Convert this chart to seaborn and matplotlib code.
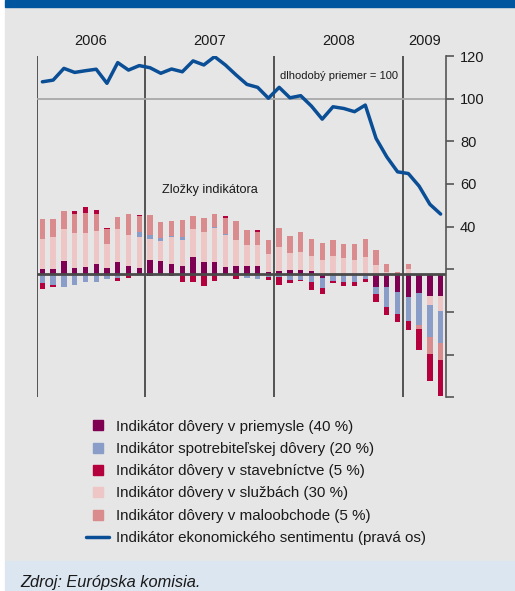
import numpy as np
import matplotlib
matplotlib.use("Agg")
import matplotlib.pyplot as plt
from matplotlib.lines import Line2D
from matplotlib.patches import Rectangle
from matplotlib import font_manager
import seaborn as sns

# months Mar 2006 - Apr 2009
years = ['2006', '2007', '2008', '2009']
months_per_year = [10, 12, 12, 4]

# economic sentiment indicator (right axis)
sentiment = [107.9, 108.7, 114.2, 112.3, 113.1, 113.8, 107.2, 116.9, 113.4, 115.5,
             114.5, 111.9, 113.9, 112.6, 117.7, 115.8, 119.7, 115.8, 111.1, 106.7,
             105.3, 100.2, 105.3, 100.4, 101.4, 96.5, 90.4, 96.2, 95.4, 93.9,
             97.0, 81.4, 72.7, 65.7, 64.9, 59.0, 50.5, 45.9]
long_term_avg = 100

# components (contributions)
industry = [2.2, 2.2, 5.9, 2.7, 3.1, 4.5, 2.7, 5.5, 3.6, 2.7,
            6.4, 5.9, 4.5, 3.6, 7.8, 5.5, 5.5, 3.1, 3.6, 3.8,
            3.6, 0.8, 1.3, 1.7, 1.7, 1.3, -2.0, -0.5, 0.0, 0.0,
            0.0, -6.3, -6.3, -8.6, -11.0, -9.1, -10.5, -10.5]
services = [14.1, 15.0, 15.0, 16.6, 16.0, 15.5, 11.3, 15.5, 14.6, 14.6,
            9.9, 9.4, 12.7, 12.2, 13.1, 14.1, 16.0, 15.0, 12.2, 9.9,
            9.9, 8.5, 11.3, 8.0, 8.5, 7.0, 6.4, 8.3, 7.4, 6.4,
            7.8, 4.1, 0.8, 0.0, 2.2, 0.0, -4.2, -7.0]
consumer = [-4.4, -5.3, -6.3, -5.3, -3.9, -3.9, -2.5, -2.0, -0.6, 2.3,
            1.9, 1.4, 0.5, 1.4, 0.0, 0.0, 0.5, 0.5, 0.0, -2.0,
            -2.7, -1.7, -1.6, -3.0, -3.0, -3.9, -4.7, -3.0, -3.9, -3.9,
            -2.5, -3.3, -9.4, -10.3, -11.3, -15.0, -15.0, -15.0]
retail = [9.4, 8.5, 8.5, 8.8, 9.4, 8.0, 7.0, 5.6, 9.9, 7.5,
          9.4, 7.5, 7.0, 8.0, 6.1, 6.6, 6.1, 7.5, 8.9, 7.0,
          6.1, 6.6, 8.9, 8.0, 9.5, 8.0, 8.0, 7.5, 6.6, 7.5,
          8.5, 7.0, 3.8, 0.8, 2.3, -1.9, -8.0, -8.0]
construction = [-2.8, -0.9, 0.0, 1.4, 2.8, 1.9, 0.5, -1.4, -1.4, 0.5,
                -1.0, 0.0, -1.2, -3.9, -3.9, -5.8, -3.4, 0.9, -2.5, 0.0,
                0.9, -1.3, -3.8, -1.4, -0.5, -3.8, -2.8, -0.9, -1.9, -1.9,
                -1.4, -3.8, -3.8, -3.8, -4.2, -9.9, -12.7, -16.9]

labels = {
    'industry': 'Indikátor dôvery v priemysle (40 %)',
    'consumer': 'Indikátor spotrebiteľskej dôvery (20 %)',
    'construction': 'Indikátor dôvery v stavebníctve (5 %)',
    'services': 'Indikátor dôvery v službách (30 %)',
    'retail': 'Indikátor dôvery v maloobchode (5 %)',
    'line': 'Indikátor ekonomického sentimentu (pravá os)',
}
colors = {
    'industry': '#7f0053',
    'consumer': '#8a9dc8',
    'construction': '#b4003c',
    'services': '#eec6c6',
    'retail': '#d98b8d',
    'line': '#0a4e96',
}
series = {'industry': industry, 'services': services, 'consumer': consumer,
          'retail': retail, 'construction': construction}

sns.set_style('white')
plt.rcParams['font.family'] = ['Liberation Sans', 'DejaVu Sans']
installed = {f.name for f in font_manager.fontManager.ttflist}
narrow = 'Liberation Sans Narrow' if 'Liberation Sans Narrow' in installed else 'Liberation Sans'

W, H = 515, 591
fig = plt.figure(figsize=(W / 100, H / 100), dpi=100, facecolor='white')

# background bands
fig.add_artist(Rectangle((5 / W, 30 / H), 1 - 5 / W, (H - 37) / H,
                         transform=fig.transFigure, color='#e6e6e6', zorder=-10))
fig.add_artist(Rectangle((5 / W, 1 - 7 / H), 1 - 5 / W, 7 / H,
                         transform=fig.transFigure, color='#0057a0', zorder=-10))
fig.add_artist(Rectangle((5 / W, 0), 1 - 5 / W, 30 / H,
                         transform=fig.transFigure, color='#dce6f1', zorder=-10))

ax = fig.add_axes([37 / W, 1 - 397.3 / H, 409 / W, 341.3 / H])
ax.set_facecolor('none')
x = np.arange(len(sentiment))

# stacked bars, positives up and negatives down
pos = np.zeros(len(x))
neg = np.zeros(len(x))
for key, vals in series.items():
    v = np.array(vals)
    bottom = np.where(v >= 0, pos, neg)
    ax.bar(x, v, bottom=bottom, width=0.5, color=colors[key], linewidth=0, zorder=2)
    pos += np.where(v > 0, v, 0)
    neg += np.where(v < 0, v, 0)

ax.set_xlim(-0.5, len(x) - 0.5)
ax.set_ylim(-58.0, 102.2)
ax.axhline(0, color='#4a4a4a', lw=2, zorder=4)
ax.set_xticks([])
ax.set_yticks([])
for s in ax.spines.values():
    s.set_visible(False)

# year separators and labels
bounds = np.concatenate([[0], np.cumsum(months_per_year)]) - 0.5
for b in bounds[:-1]:
    ax.axvline(b, color='#3a3a3a', lw=1.2, zorder=3)
for i, yr in enumerate(years):
    ax.text((bounds[i] + bounds[i + 1]) / 2, 1.045, yr, transform=ax.get_xaxis_transform(),
            ha='center', va='center', fontsize=10.5, color='#1a1a1a')

ax2 = ax.twinx()
ax2.set_facecolor('none')
ax2.axhline(long_term_avg, color='#a9a9a9', lw=1.3, zorder=1)
sns.lineplot(x=x, y=sentiment, ax=ax2, color=colors['line'], lw=2.5, zorder=5)
ax2.set_ylim(-40, 120)
ticks = list(range(-40, 121, 20))
ax2.set_yticks(ticks)
ax2.set_yticklabels([str(t) if t >= 40 else '' for t in ticks])
ax2.tick_params(axis='y', direction='out', length=6, width=1.2, color='#555555',
                pad=4, labelsize=10.5, labelcolor='#1a1a1a')
for name, s in ax2.spines.items():
    s.set_visible(name == 'right')
ax2.spines['right'].set_color('#555555')
ax2.spines['right'].set_linewidth(1.2)
ax2.set_ylabel('')

ax.text(0.594, 0.941, 'dlhodobý priemer = 100', transform=ax.transAxes,
        ha='left', va='center', fontsize=8, family=narrow, color='#1a1a1a')
ax.text(0.306, 0.607, 'Zložky indikátora', transform=ax.transAxes,
        ha='left', va='center', fontsize=9.2, family=narrow, color='#1a1a1a')

# legend
order = ['industry', 'consumer', 'construction', 'services', 'retail']
handles = [Line2D([], [], marker='s', ms=6.5, ls='none', color=colors[k]) for k in order]
handles.append(Line2D([], [], color=colors['line'], lw=2.5))
fig.legend(handles, [labels[k] for k in order] + [labels['line']],
           loc='upper left', bbox_to_anchor=(86 / W, 1 - 419.5 / H), frameon=False,
           fontsize=10.9, handlelength=1.55, handletextpad=0.45, labelspacing=0.55,
           borderpad=0, borderaxespad=0, labelcolor='#1a1a1a')

fig.text(20 / W, 1 - 587 / H, 'Zdroj: Európska komisia.', ha='left', va='baseline',
         fontsize=11.8, style='italic', color='#1a1a1a')

fig.savefig('out.png', dpi=100, facecolor='white')
